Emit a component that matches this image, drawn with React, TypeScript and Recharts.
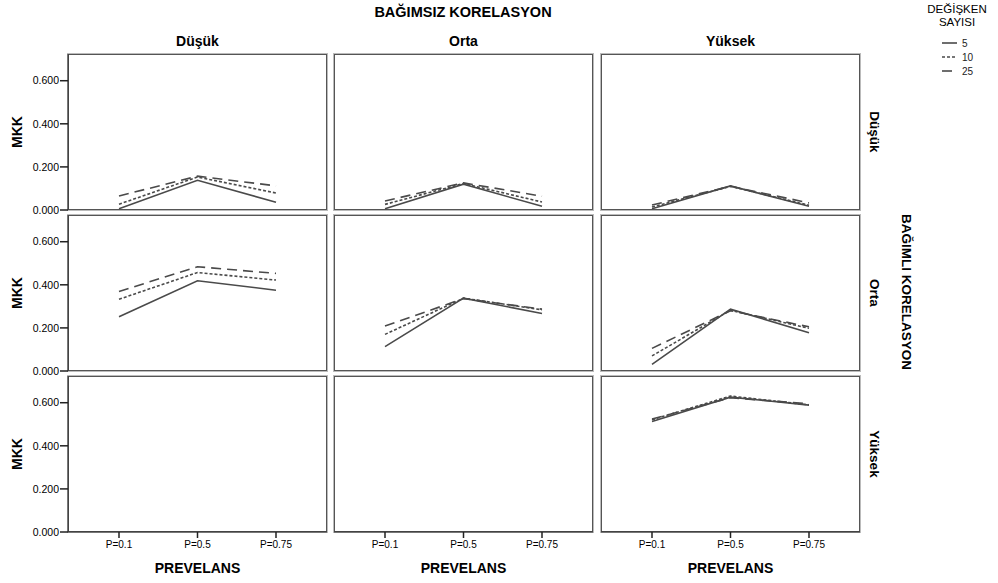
import React from 'react'
import { LineChart, Line, XAxis, YAxis } from 'recharts'

// prevalence levels on the x axis
const prevalence = ['P=0.1', 'P=0.5', 'P=0.75']
// facet levels (columns: independent correlation, rows: dependent correlation)
const colLevels = ['Düşük', 'Orta', 'Yüksek']
const rowLevels = ['Düşük', 'Orta', 'Yüksek']
const yTicks = [0, 0.2, 0.4, 0.6]

// MKK per variable count, [row][col] -> values at each prevalence (null = empty cell)
const mkk5: (number[] | null)[][] = [
  [[0.006, 0.138, 0.036], [0.006, 0.12, 0.017], [0.006, 0.112, 0.017]],
  [[0.252, 0.419, 0.375], [0.113, 0.338, 0.267], [0.031, 0.287, 0.178]],
  [null, null, [0.513, 0.626, 0.589]],
]
const mkk10: (number[] | null)[][] = [
  [[0.027, 0.153, 0.079], [0.026, 0.123, 0.037], [0.014, 0.11, 0.022]],
  [[0.333, 0.457, 0.422], [0.17, 0.338, 0.284], [0.07, 0.282, 0.198]],
  [null, null, [0.521, 0.631, 0.59]],
]
const mkk25: (number[] | null)[][] = [
  [[0.065, 0.157, 0.112], [0.042, 0.126, 0.064], [0.023, 0.11, 0.033]],
  [[0.369, 0.484, 0.453], [0.209, 0.336, 0.287], [0.105, 0.28, 0.205]],
  [null, null, [0.524, 0.623, 0.595]],
]

const series = [
  { key: 'v5', label: '5', dash: undefined as string | undefined },
  { key: 'v10', label: '10', dash: '3 2' },
  { key: 'v25', label: '25', dash: '10 6' },
]

const FONT = '"Liberation Sans", Arial, sans-serif'
const LINE = '#4a4a4a'
const colX = [68, 334, 601]
const rowY = [54, 215, 376]
const PW = 259
const PH = 156

function Panel({ r, c }: { r: number; c: number }) {
  const showY = c === 0
  const showX = r === 2
  const yw = showY ? 60 : 0
  const xh = showX ? 30 : 0
  const data = prevalence.map((p, i) => ({
    p,
    v5: mkk5[r][c]?.[i] ?? null,
    v10: mkk10[r][c]?.[i] ?? null,
    v25: mkk25[r][c]?.[i] ?? null,
  }))
  return (
    <>
      <div
        style={{
          position: 'absolute',
          left: colX[c],
          top: rowY[r],
          width: PW,
          height: PH,
          boxSizing: 'border-box',
          border: '1px solid #555',
          boxShadow: '0 0 0 1px #bbb',
        }}
      />
      <div style={{ position: 'absolute', left: colX[c] - yw, top: rowY[r] - 8 }}>
        <LineChart width={PW + yw} height={PH + xh + 16} data={data} margin={{ top: 8, right: 0, bottom: 8, left: 0 }}>
          <XAxis
            dataKey="p"
            scale="point"
            padding={{ left: 51, right: 51 }}
            hide={!showX}
            height={showX ? 30 : 0}
            tickSize={6}
            tickMargin={3}
            interval={0}
            axisLine={{ stroke: '#333' }}
            tickLine={{ stroke: '#222', strokeWidth: 1.5 }}
            tick={{ fontSize: 10, fill: '#000', stroke: 'none', fontFamily: FONT }}
          />
          <YAxis
            type="number"
            domain={[0, 0.724]}
            allowDataOverflow
            ticks={yTicks}
            interval={0}
            hide={!showY}
            width={60}
            tickSize={8}
            tickMargin={1}
            axisLine={{ stroke: '#333' }}
            tickLine={{ stroke: '#222', strokeWidth: 1.5 }}
            tick={{ fontSize: 10.5, fill: '#000', stroke: 'none', fontFamily: FONT }}
            tickFormatter={(v: number) => v.toFixed(3)}
          />
          {series.map((s) => (
            <Line
              key={s.key}
              type="linear"
              dataKey={s.key}
              name={s.label}
              stroke={LINE}
              strokeWidth={1.6}
              strokeDasharray={s.dash}
              dot={false}
              activeDot={false}
              isAnimationActive={false}
            />
          ))}
        </LineChart>
      </div>
    </>
  )
}

function Label({
  text, x, y, size, bold = true, rotate = 0,
}: { text: string; x: number; y: number; size: number; bold?: boolean; rotate?: number }) {
  return (
    <div
      style={{
        position: 'absolute',
        left: x,
        top: y,
        transform: `translate(-50%, -50%) rotate(${rotate}deg)`,
        whiteSpace: 'nowrap',
        fontSize: size,
        fontWeight: bold ? 700 : 400,
        fontFamily: FONT,
        color: '#000',
        lineHeight: 1,
      }}
    >
      {text}
    </div>
  )
}

export default function App() {
  return (
    <div style={{ position: 'absolute', left: 0, top: 0, width: 998, height: 583, background: '#fff', fontFamily: FONT }}>
      <Label text="BAĞIMSIZ KORELASYON" x={463} y={12} size={14.5} />
      {colLevels.map((l, c) => (
        <Label key={'c' + l} text={l} x={colX[c] + PW / 2} y={41} size={14} />
      ))}
      {rowLevels.map((l, r) => (
        <Label key={'r' + l} text={l} x={874} y={rowY[r] + PH / 2} size={13.5} rotate={90} />
      ))}
      <Label text="BAĞIMLI KORELASYON" x={906} y={292} size={13.5} rotate={90} />
      {rowLevels.map((l, r) => (
        <Label key={'m' + l} text="MKK" x={17} y={rowY[r] + PH / 2} size={14} rotate={-90} />
      ))}
      {colLevels.map((l, c) => (
        <Label key={'p' + l} text="PREVELANS" x={colX[c] + PW / 2} y={568} size={14} />
      ))}
      {[0, 1, 2].map((r) => [0, 1, 2].map((c) => <Panel key={`${r}-${c}`} r={r} c={c} />))}

      {/* legend */}
      <Label text="DEĞİŞKEN" x={957} y={10} size={11.5} bold={false} />
      <Label text="SAYISI" x={957} y={23} size={11.5} bold={false} />
      {series.map((s, i) => (
        <div key={s.key} style={{ position: 'absolute', left: 940, top: 37 + i * 14, height: 12, display: 'flex', alignItems: 'center' }}>
          <svg width={18} height={12}>
            <line x1={2} y1={6} x2={17} y2={6} stroke={LINE} strokeWidth={1.6} strokeDasharray={s.dash ?? undefined} />
          </svg>
          <span style={{ fontSize: 10, fontFamily: FONT, marginLeft: 4, color: '#222' }}>{s.label}</span>
        </div>
      ))}
    </div>
  )
}
